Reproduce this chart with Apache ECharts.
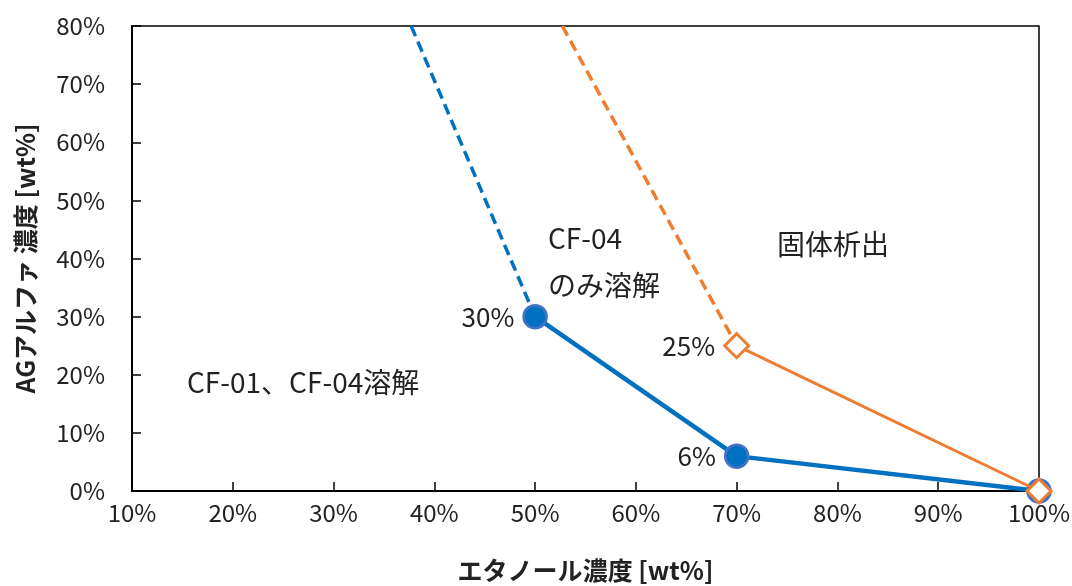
<!DOCTYPE html>
<html><head><meta charset="utf-8">
<script src="https://cdn.jsdelivr.net/npm/echarts@6/dist/echarts.min.js"></script>
<style>html,body{margin:0;padding:0;background:#fff}#c{width:1072px;height:586px}</style>
</head><body><div id="c"></div>
<script>
const xTicks = [10,20,30,40,50,60,70,80,90,100];
const yTicks = [0,10,20,30,40,50,60,70,80];
const cf04Solid = [[50,30],[70,6],[100,0]];
const cf04Dashed = [[37.7,80],[50,30]];
const cf01Solid = [[70,25],[100,0]];
const cf01Dashed = [[52.7,80],[70,25]];
const pointLabels = {"50,30":"30%","70,6":"6%","70,25":"25%"};
const regionTexts = [
  {x:548,y:238,t:"CF-04"},
  {x:548,y:285,t:"のみ溶解"},
  {x:777,y:244,t:"固体析出"},
  {x:187,y:382,t:"CF-01、CF-04溶解"}
];
const FONT = '"Noto Sans CJK JP","Noto Sans",sans-serif';
const chart = echarts.init(document.getElementById('c'));
function withLabels(arr){
  return arr.map(p=>{
    const k=p[0]+','+p[1];
    if(pointLabels[k]) return {value:p,label:{show:true,formatter:pointLabels[k]}};
    return {value:p};
  });
}
const lbl = {show:false,position:'left',distance:8,fontSize:26,color:'#222',fontFamily:FONT};
chart.setOption({
  animation:false,
  grid:{left:132,right:33,top:26,bottom:95,show:true,borderColor:'#000',borderWidth:1.5,outerBoundsMode:'none',containLabel:false},
  xAxis:{type:'value',min:10,max:100,interval:10,
    name:'エタノール濃度 [wt%]',nameLocation:'middle',nameGap:67,
    nameTextStyle:{fontSize:25,fontWeight:'bold',color:'#222',fontFamily:FONT},
    axisLine:{show:true,lineStyle:{color:'#000',width:2}},
    axisTick:{show:true,inside:true,length:9,lineStyle:{color:'#000',width:1.5}},
    axisLabel:{formatter:'{value}%',fontSize:24,color:'#222',margin:10,fontFamily:FONT},
    splitLine:{show:false}},
  yAxis:{type:'value',min:0,max:80,interval:10,
    name:'AGアルファ 濃度 [wt%]',nameLocation:'middle',nameGap:94,
    nameTextStyle:{fontSize:25,fontWeight:'bold',color:'#222',fontFamily:FONT},
    axisLine:{show:true,lineStyle:{color:'#000',width:2}},
    axisTick:{show:true,inside:true,length:9,lineStyle:{color:'#000',width:1.5}},
    axisLabel:{formatter:'{value}%',fontSize:24,color:'#222',margin:27,fontFamily:FONT},
    splitLine:{show:false}},
  graphic: regionTexts.map(r=>({type:'text',x:r.x,y:r.y,style:{text:r.t,font:'28px '+FONT,fill:'#222',verticalAlign:'middle',align:'left'}})),
  series:[
    {type:'line',data:cf04Dashed,symbol:'none',lineStyle:{color:'#0070C0',width:3.5,type:[11,6]},z:2},
    {type:'line',data:cf01Dashed,symbol:'none',lineStyle:{color:'#ED7D31',width:3.5,type:[11,6]},z:2},
    {type:'line',data:withLabels(cf04Solid),symbol:'circle',symbolSize:23,
      itemStyle:{color:'#0070C0',borderColor:'#4472C4',borderWidth:2.5},
      lineStyle:{color:'#0070C0',width:4.5},label:lbl,z:3},
    {type:'line',data:withLabels(cf01Solid),symbol:'diamond',symbolSize:[24,24],
      itemStyle:{color:'#fff',borderColor:'#ED7D31',borderWidth:3},
      lineStyle:{color:'#ED7D31',width:3},label:lbl,z:4}
  ]
});
</script></body></html>
